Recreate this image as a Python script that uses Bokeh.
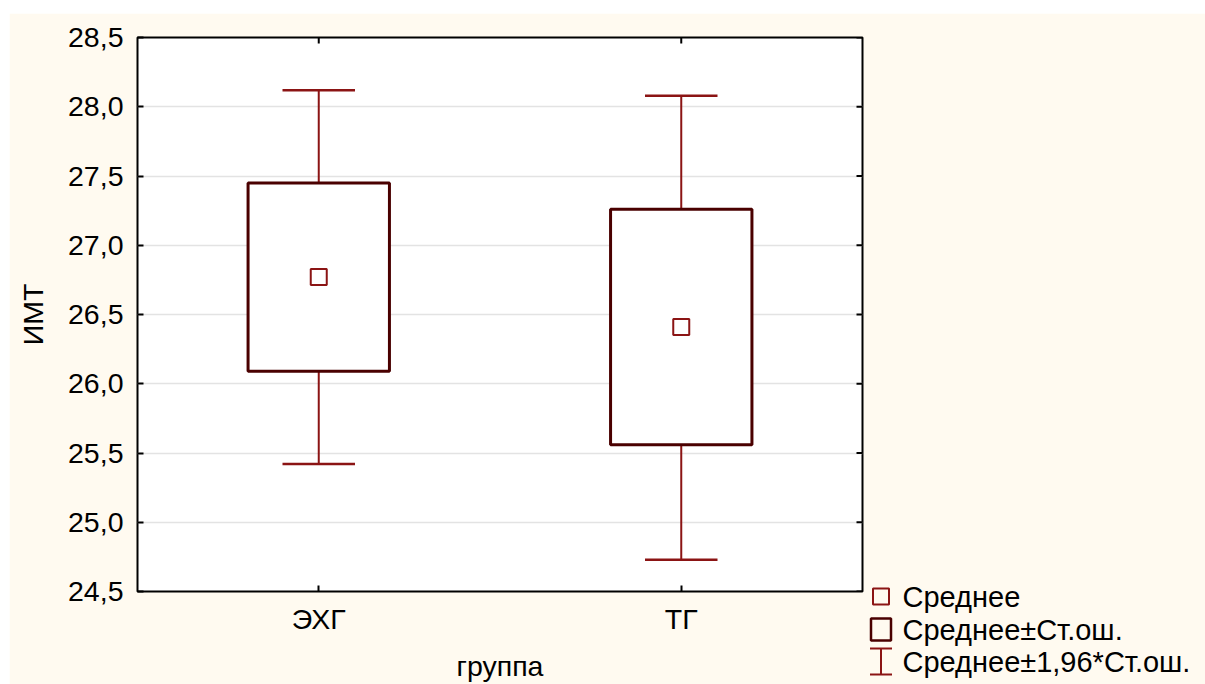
import math
from bokeh.plotting import figure
from bokeh.models import (Range1d, FixedTicker, CustomJSTickFormatter, ColumnDataSource, Spacer)
from bokeh.layouts import column, row
from bokeh.embed import file_html
from bokeh.resources import INLINE
from bokeh.core.properties import value

# ---- data ----
groups = ["ЭХГ", "ТГ"]
means = [26.77, 26.41]
se_low = [26.09, 25.56]
se_high = [27.45, 27.26]
ci_low = [25.42, 24.73]
ci_high = [28.12, 28.08]
y_ticks = [24.5, 25.0, 25.5, 26.0, 26.5, 27.0, 27.5, 28.0, 28.5]
legend_labels = ["Среднее", "Среднее±Ст.ош.", "Среднее±1,96*Ст.ош."]
x_title = "группа"
y_title = "ИМТ"

# ---- style ----
FONT = "Liberation Sans"
CREAM = "#FFFAF0"
BOX_COLOR = "#4A0000"
WHISK_COLOR = "#8B1414"
FS = "28.5px"
LEG_FS = "29px"
BOX_W = 0.78
CAP_HALF = 0.2
FRAME_W, FRAME_H = 725, 554

xpos = [2 * i + 1 for i in range(len(groups))]
src = ColumnDataSource(dict(
    x=xpos, mean=means, lo=se_low, hi=se_high, clo=ci_low, chi=ci_high,
    cx0=[x - CAP_HALF for x in xpos], cx1=[x + CAP_HALF for x in xpos],
))

p = figure(width=1196, height=671, output_backend="svg", toolbar_location=None,
           x_range=Range1d(0, 2 * len(groups)), y_range=Range1d(y_ticks[0], y_ticks[-1]),
           min_border_left=128, min_border_top=24, min_border_right=343, min_border_bottom=93)
p.background_fill_color = "white"
p.border_fill_color = CREAM
p.outline_line_color = "black"
p.outline_line_width = 2
p.xgrid.visible = False
p.ygrid.grid_line_color = "#E3E3E3"
p.ygrid.grid_line_width = 1.5
p.ygrid.ticker = FixedTicker(ticks=y_ticks)

xax = p.xaxis[0]
yax = p.yaxis[0]
xax.ticker = FixedTicker(ticks=xpos)
xax.major_label_overrides = {x: g for x, g in zip(xpos, groups)}
yax.ticker = FixedTicker(ticks=y_ticks)
yax.formatter = CustomJSTickFormatter(code="return tick.toFixed(1).replace('.', ',');")
xax.axis_label = x_title
yax.axis_label = y_title

for ax in [xax, yax]:
    ax.axis_line_color = None
    ax.major_tick_in = 6
    ax.major_tick_out = 0
    ax.major_tick_line_color = "black"
    ax.major_tick_line_width = 2
    ax.minor_tick_line_color = None
    ax.major_label_text_font = FONT
    ax.major_label_text_font_size = FS
    ax.major_label_text_color = "black"
    ax.axis_label_text_font = FONT
    ax.axis_label_text_font_size = FS
    ax.axis_label_text_font_style = "normal"
    ax.axis_label_text_color = "black"

yax.major_label_standoff = 14
yax.axis_label_standoff = 16
xax.major_label_standoff = 11
xax.axis_label_standoff = 12

# inward ticks on the top and right frame edges (half of each dash is clipped by the frame)
p.scatter(x=[p.x_range.end] * len(y_ticks), y=y_ticks, marker="dash", size=12,
          line_color="black", line_width=2)
p.scatter(x=xpos, y=[p.y_range.end] * len(xpos), marker="dash", size=12, angle=math.pi / 2,
          line_color="black", line_width=2)

# whisker stems
p.segment(x0="x", y0="clo", x1="x", y1="chi", source=src, line_color=WHISK_COLOR, line_width=2)
# boxes
p.vbar(x="x", bottom="lo", top="hi", width=BOX_W, source=src, fill_color="white",
       line_color=BOX_COLOR, line_width=3)
# caps
p.segment(x0="cx0", y0="clo", x1="cx1", y1="clo", source=src, line_color=WHISK_COLOR, line_width=2.5)
p.segment(x0="cx0", y0="chi", x1="cx1", y1="chi", source=src, line_color=WHISK_COLOR, line_width=2.5)
# means
p.scatter(x="x", y="mean", source=src, marker="square", size=16, fill_color="white",
          line_color=WHISK_COLOR, line_width=2)

# ---- legend (outside the frame, pixel units relative to the frame's top-left) ----
p.extra_x_ranges = {"px": Range1d(0, FRAME_W)}
p.extra_y_ranges = {"py": Range1d(FRAME_H, 0)}
sw_x = 743.5
row_y = [559, 592, 624]
text_x = 765
kw = dict(x_range_name="px", y_range_name="py", level="overlay")
p.rect(x=[sw_x], y=[row_y[0]], width=16, height=16, width_units="screen", height_units="screen",
       fill_color=None, line_color=WHISK_COLOR, line_width=2, **kw)
p.rect(x=[sw_x], y=[row_y[1]], width=20, height=22, width_units="screen", height_units="screen",
       fill_color=None, line_color=BOX_COLOR, line_width=2.5, **kw)
p.segment(x0=[sw_x], y0=[row_y[2] - 13], x1=[sw_x], y1=[row_y[2] + 13],
          line_color=WHISK_COLOR, line_width=2, **kw)
p.segment(x0=[sw_x - 11, sw_x - 11], y0=[row_y[2] - 13, row_y[2] + 13],
          x1=[sw_x + 11, sw_x + 11], y1=[row_y[2] - 13, row_y[2] + 13],
          line_color=WHISK_COLOR, line_width=2, **kw)
p.text(x=[text_x] * len(legend_labels), y=row_y, text=legend_labels, text_font=value(FONT),
       text_font_size=LEG_FS, text_baseline="middle", text_align="left", text_color="black", **kw)

layout = column(Spacer(width=1205, height=13), row(Spacer(width=9, height=671), p))

open("out.html", "w").write(file_html(layout, INLINE))
